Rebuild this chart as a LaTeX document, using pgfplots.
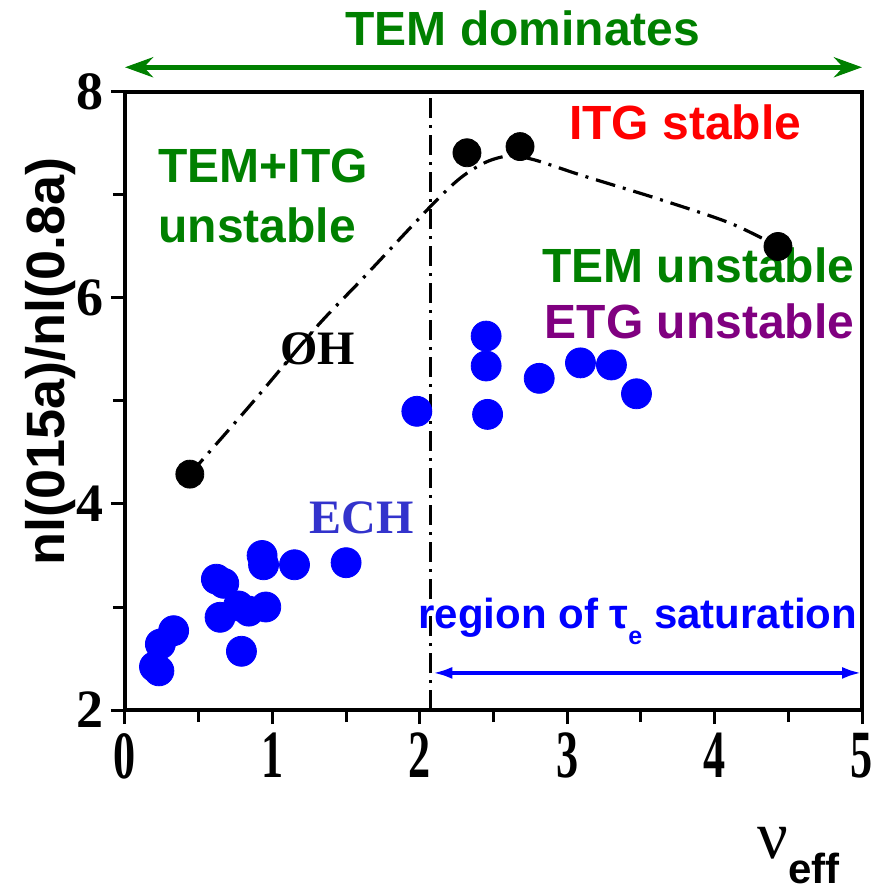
\documentclass[border=0pt]{standalone}
\usepackage{fontspec}
\setmainfont{Liberation Serif}
\newfontfamily\arial{Liberation Sans}
\usepackage{pgfplots}
\pgfplotsset{compat=1.18}
\usetikzlibrary{arrows.meta,calc}
\definecolor{tgreen}{RGB}{0,128,0}
\definecolor{tpurple}{RGB}{128,0,128}
\definecolor{echblue}{RGB}{51,51,204}
\begin{document}
\begin{tikzpicture}
\begin{axis}[
  scale only axis, width=368.5pt, height=309pt,
  xmin=0, xmax=5, ymin=2, ymax=8,
  xtick={0,1,2,3,4,5}, ytick={2,4,6,8},
  minor xtick={0.5,1.5,2.5,3.5,4.5}, minor ytick={3,5,7},
  tick align=outside, xtick pos=left, ytick pos=left,
  major tick length=7pt, minor tick length=6pt,
  axis line style={line width=2pt},
  tick style={black, line width=1.5pt},
  clip=false,
  /pgf/number format/assume math mode=true,
  xticklabel style={font=\fontsize{26}{26}\selectfont\bfseries, xscale=0.85, yscale=1.3},
  yticklabel style={font=\fontsize{27}{27}\selectfont\bfseries},
]
\coordinate (SW) at (axis cs:0,2);
\coordinate (NE) at (axis cs:5,8);
% vertical dash-dot line
\addplot[black, line width=1.5pt, dash pattern=on 10pt off 3.5pt on 1.5pt off 3.5pt] coordinates {(2.075,2) (2.075,8)};
% OH trend curve
\addplot[black, smooth, tension=0.5, line width=1.6pt, dash pattern=on 10pt off 4pt on 1.5pt off 4pt] coordinates {
(0.44,4.29) (0.85,4.96) (1.30,5.72) (1.62,6.20) (2.08,6.90) (2.28,7.17) (2.45,7.32) (2.61,7.38) (2.78,7.34) (3.10,7.19) (3.60,6.97) (4.10,6.73) (4.43,6.50)};
% ECH points
\addplot[only marks, mark=*, mark size=7.5pt, color=blue] coordinates {
(0.20,2.42) (0.23,2.38) (0.24,2.64) (0.33,2.77)
(0.62,3.27) (0.67,3.23) (0.645,2.90)
(0.77,3.01) (0.84,2.96) (0.955,3.00) (0.79,2.57)
(0.93,3.50) (0.94,3.41) (1.15,3.41) (1.50,3.43)
(1.98,4.90) (2.45,5.63) (2.45,5.34) (2.46,4.87)
(2.81,5.22) (3.09,5.37) (3.30,5.35) (3.47,5.07)};
% OH points
\addplot[only marks, mark=*, mark size=7pt, color=black] coordinates {
(0.44,4.29) (2.32,7.41) (2.68,7.47) (4.43,6.50)};
% arrows
\draw[tgreen, line width=2.5pt, {Stealth[length=14pt,width=10pt]}-{Stealth[length=14pt,width=10pt]}] (axis cs:0,8.24) -- (axis cs:5,8.24);
\draw[blue, line width=2pt, {Latex[length=10pt,width=6pt]}-{Latex[length=10pt,width=6pt]}] (axis cs:2.085,2.36) -- (axis cs:5,2.36);
% annotations
\node[anchor=base, inner sep=0, tgreen, font=\arial\bfseries\fontsize{24}{24}\selectfont] at (axis cs:2.70,8.447) {TEM dominates};
\node[anchor=base west, inner sep=0, tgreen, font=\arial\bfseries\fontsize{24}{24}\selectfont] at (axis cs:0.224,7.117) {TEM+ITG};
\node[anchor=base west, inner sep=0, tgreen, font=\arial\bfseries\fontsize{24}{24}\selectfont] at (axis cs:0.224,6.534) {unstable};
\node[anchor=base west, inner sep=0, red, font=\arial\bfseries\fontsize{24}{24}\selectfont] at (axis cs:3.01,7.534) {ITG stable};
\node[anchor=base east, inner sep=0, tgreen, font=\arial\bfseries\fontsize{24}{24}\selectfont] at (axis cs:4.95,6.146) {TEM unstable};
\node[anchor=base east, inner sep=0, tpurple, font=\arial\bfseries\fontsize{24}{24}\selectfont] at (axis cs:4.95,5.602) {ETG unstable};
\node[anchor=base west, inner sep=0, black, font=\bfseries\fontsize{24}{24}\selectfont] at (axis cs:1.05,5.35) {ØH};
\node[anchor=base west, inner sep=0, echblue, font=\bfseries\fontsize{24}{24}\selectfont] at (axis cs:1.25,3.718) {ECH};
\node[anchor=base west, inner sep=0, blue, font=\arial\bfseries\fontsize{21}{21}\selectfont] at (axis cs:1.988,2.796) {region of τ\raisebox{-8pt}{\fontsize{12.5}{12.5}\selectfont e} saturation};
% axis labels
\node[rotate=90, anchor=base, inner sep=0, font=\arial\bfseries\fontsize{27}{27}\selectfont] at ([xshift=-30pt]axis cs:0,5.38) {nl(015a)/nl(0.8a)};
\node[anchor=base west, inner sep=0] at ([yshift=-74pt]axis cs:4.29,2) {\fontsize{34}{34}\selectfont ν\raisebox{-12.5pt}{\arial\bfseries\fontsize{21}{21}\selectfont eff}};
\end{axis}
\pgfresetboundingbox
\path[use as bounding box] ($(SW)+(-62.5pt,-89.5pt)$) rectangle ($(NE)+(8pt,46pt)$);
\end{tikzpicture}
\end{document}
